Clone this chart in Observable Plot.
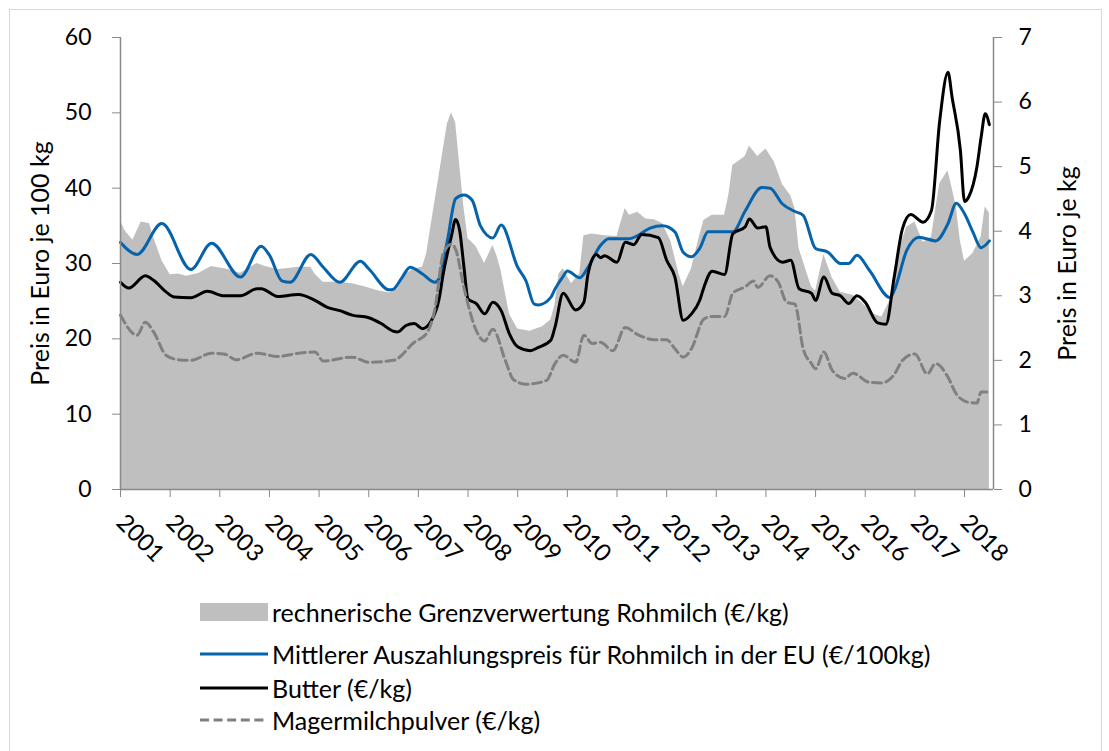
<!DOCTYPE html>
<html><head><meta charset="utf-8">
<script src="https://cdn.jsdelivr.net/npm/d3@7"></script>
<script src="https://cdn.jsdelivr.net/npm/@observablehq/plot@0.6"></script>
<style>
body{margin:0;background:#fff;font-family:Lato,sans-serif;}
#frame{position:absolute;left:9px;top:9px;width:1093px;height:770px;border:1px solid #d9d9d9;box-sizing:border-box;}
#chart{position:absolute;left:0;top:0;}
.row{position:absolute;left:200px;display:flex;align-items:center;height:30px;font-size:25px;color:#000;white-space:nowrap;}
.sym{width:68px;height:30px;margin-right:4px;display:block;flex:none;}
</style></head><body>
<div id="frame"></div>
<div id="chart"></div>
<div id="legend"></div>
<script>
// ---- Data ----
const grenzDates = ["2001-01","2001-02","2001-04","2001-06","2001-08","2001-09","2001-11","2002-01","2002-03","2002-05","2002-08","2002-11","2003-01","2003-03","2003-06","2003-10","2003-12","2004-03","2004-05","2004-08","2004-11","2004-12","2005-02","2005-06","2005-09","2005-12","2006-03","2006-06","2006-08","2006-10","2006-12","2007-02","2007-03","2007-04","2007-06","2007-08","2007-09","2007-10","2007-11","2007-12","2008-01","2008-02","2008-03","2008-05","2008-07","2008-08","2008-09","2008-11","2009-01","2009-04","2009-07","2009-09","2009-10","2009-11","2009-12","2010-02","2010-04","2010-05","2010-07","2010-10","2011-01","2011-02","2011-03","2011-04","2011-06","2011-08","2011-10","2011-12","2012-02","2012-04","2012-05","2012-07","2012-09","2012-10","2012-12","2013-03","2013-04","2013-05","2013-06","2013-08","2013-09","2013-11","2014-01","2014-03","2014-05","2014-07","2014-08","2014-09","2014-11","2014-12","2015-01","2015-03","2015-05","2015-07","2015-10","2015-12","2016-03","2016-05","2016-07","2016-09","2016-11","2017-01","2017-03","2017-05","2017-07","2017-09","2017-10","2017-11","2017-12","2018-01","2018-03","2018-05","2018-06","2018-07"];
const grenzValues = [35.7,34.4,33.1,35.5,35.3,33.5,30.4,28.5,28.6,28.3,28.7,29.6,29.4,29.2,28.7,30.0,29.6,29.2,29.3,29.5,29.5,28.6,27.5,27.5,27.3,26.9,26.4,26.1,26.6,28.6,29.3,29.5,31.3,34.8,41.6,48.5,50.0,48.7,43.0,37.5,33.3,32.8,32.2,30.0,32.4,31.0,29.0,23.3,21.3,21.0,21.6,22.5,24.5,28.6,29.3,27.3,28.6,33.7,33.9,33.7,33.6,35.5,37.3,36.4,36.8,35.9,35.8,35.3,33.0,28.6,26.9,29.3,33.7,35.7,36.4,36.4,39.0,43.0,43.4,44.2,45.6,44.2,45.2,43.5,40.5,39.0,37.3,32.0,28.6,26.9,26.3,31.2,28.1,26.2,25.8,24.9,23.3,22.9,25.1,31.3,34.8,35.5,32.8,33.5,40.6,42.3,40.0,37.5,33.0,30.3,31.3,33.5,37.5,36.7];

const milkDates = ["2001-01","2001-05","2001-11","2002-06","2002-11","2003-06","2003-11","2004-01","2004-04","2004-06","2004-11","2005-02","2005-06","2005-11","2006-01","2006-06","2006-07","2006-09","2006-11","2007-02","2007-05","2007-06","2007-08","2007-10","2007-12","2008-02","2008-04","2008-07","2008-09","2009-01","2009-03","2009-05","2009-06","2009-09","2009-10","2009-12","2010-01","2010-04","2010-06","2010-09","2010-11","2011-04","2011-06","2011-09","2011-12","2012-03","2012-05","2012-07","2012-09","2012-11","2013-05","2013-08","2013-12","2014-02","2014-05","2014-08","2014-10","2015-01","2015-04","2015-07","2015-09","2015-11","2016-02","2016-07","2016-08","2016-11","2017-02","2017-06","2017-09","2017-11","2018-01","2018-03","2018-05","2018-07"];
const milkValues = [32.8,31.2,35.3,29.2,32.7,28.2,32.3,31.1,27.7,27.5,31.2,29.5,27.5,30.3,29.3,26.5,26.6,28.1,29.5,28.6,27.5,28.0,33.0,38.6,39.1,38.4,35.0,33.4,35.1,29.5,27.7,24.6,24.5,25.5,26.6,28.3,29.0,28.1,29.5,32.4,33.3,33.3,33.7,34.7,35.0,34.2,31.5,30.9,32.0,34.2,34.2,37.0,40.1,40.0,37.9,36.9,36.4,32.0,31.5,30.0,30.0,31.1,29.1,25.5,26.4,31.7,33.5,33.0,35.3,38.0,36.6,34.2,32.1,33.0];

const butterDates = ["2001-01","2001-03","2001-07","2001-09","2001-12","2002-02","2002-06","2002-10","2003-02","2003-06","2003-10","2003-11","2004-03","2004-08","2004-12","2005-03","2005-06","2005-09","2006-01","2006-04","2006-07","2006-08","2006-10","2006-12","2007-02","2007-04","2007-06","2007-07","2007-09","2007-10","2007-11","2007-12","2008-01","2008-03","2008-05","2008-07","2008-09","2008-11","2009-01","2009-04","2009-06","2009-09","2009-10","2009-12","2010-03","2010-05","2010-06","2010-08","2010-09","2010-10","2011-01","2011-03","2011-05","2011-07","2011-11","2012-01","2012-03","2012-05","2012-07","2012-09","2012-10","2012-12","2013-03","2013-05","2013-08","2013-09","2013-11","2014-01","2014-02","2014-05","2014-07","2014-09","2014-12","2015-01","2015-03","2015-05","2015-07","2015-09","2015-11","2016-01","2016-04","2016-06","2016-08","2016-10","2016-12","2017-03","2017-05","2017-07","2017-09","2017-10","2017-12","2018-01","2018-02","2018-04","2018-05","2018-06","2018-07"];
const butterValues = [3.21,3.12,3.31,3.24,3.06,2.98,2.97,3.07,3.00,3.00,3.11,3.11,2.99,3.02,2.93,2.82,2.77,2.70,2.66,2.57,2.45,2.44,2.54,2.57,2.49,2.60,2.95,3.34,3.93,4.18,4.00,3.45,2.95,2.88,2.72,2.90,2.77,2.41,2.21,2.15,2.20,2.31,2.51,3.04,2.78,2.90,3.34,3.64,3.59,3.62,3.52,3.83,3.79,3.95,3.90,3.55,3.29,2.62,2.72,2.93,3.13,3.38,3.33,3.96,4.07,4.19,4.05,4.07,3.75,3.52,3.55,3.11,3.04,2.93,3.29,3.04,3.00,2.88,3.00,2.90,2.58,2.56,3.29,4.04,4.26,4.14,4.32,5.71,6.46,6.07,5.25,4.46,4.53,5.00,5.45,5.82,5.65];

const smpDates = ["2001-01","2001-05","2001-07","2001-09","2001-12","2002-03","2002-06","2002-11","2003-02","2003-05","2003-10","2004-03","2004-08","2004-12","2005-02","2005-09","2006-01","2006-07","2006-12","2007-03","2007-05","2007-07","2007-09","2007-10","2007-12","2008-03","2008-05","2008-07","2008-10","2008-12","2009-03","2009-08","2009-10","2009-12","2010-03","2010-05","2010-07","2010-09","2010-12","2011-03","2011-06","2011-10","2012-01","2012-03","2012-05","2012-07","2012-10","2012-12","2013-03","2013-05","2013-08","2013-10","2013-11","2014-02","2014-04","2014-06","2014-08","2014-10","2014-12","2015-01","2015-03","2015-05","2015-08","2015-10","2016-02","2016-05","2016-08","2016-10","2017-01","2017-04","2017-06","2017-09","2017-11","2018-02","2018-04","2018-05","2018-07"];
const smpValues = [2.70,2.39,2.59,2.44,2.08,2.01,2.00,2.11,2.10,2.01,2.11,2.06,2.11,2.13,1.99,2.05,1.97,2.00,2.28,2.42,2.80,3.65,3.80,3.72,3.13,2.46,2.30,2.48,2.00,1.70,1.63,1.69,1.95,2.08,1.97,2.39,2.26,2.28,2.15,2.51,2.40,2.32,2.32,2.18,2.05,2.18,2.64,2.68,2.68,3.04,3.14,3.23,3.13,3.31,3.21,2.90,2.87,2.18,1.95,1.87,2.13,1.85,1.72,1.80,1.66,1.65,1.78,2.00,2.10,1.79,1.95,1.74,1.48,1.35,1.34,1.51,1.51];

const yearLabels = ["2001","2002","2003","2004","2005","2006","2007","2008","2009","2010","2011","2012","2013","2014","2015","2016","2017","2018"];
const leftTicks = [0,10,20,30,40,50,60];
const rightTicks = [0,1,2,3,4,5,6,7];
const leftTitle = "Preis in Euro je 100 kg";
const rightTitle = "Preis in Euro je kg";
const legendLabels = [
  "rechnerische Grenzverwertung Rohmilch (€/kg)",
  "Mittlerer Auszahlungspreis für Rohmilch in der EU (€/100kg)",
  "Butter (€/kg)",
  "Magermilchpulver (€/kg)"
];

// ---- Build ----
const toIdx = s => { const [y, m] = s.split("-").map(Number); return (y - 2001) * 12 + (m - 1); };
const K = 60 / 7; // right axis (€/kg) -> left axis units
const zip = (ds, vs) => ds.map((d, i) => ({i: toIdx(d), v: vs[i]}));
const grenz = zip(grenzDates, grenzValues);
const milk = zip(milkDates, milkValues);
const butter = zip(butterDates, butterValues);
const smp = zip(smpDates, smpValues);
const yearIdx = yearLabels.map(y => (Number(y) - 2001) * 12);

const BLUE = "#0563ac", GREY = "#bfbfbf", DASH = "#808080", AX = "#898989";
const FONT = 23;

const chart = Plot.plot({
  width: 1109, height: 590,
  marginLeft: 120, marginRight: 116, marginTop: 37, marginBottom: 101,
  x: {domain: [0, 211]},
  y: {domain: [0, 60]},
  style: {fontFamily: "Lato, sans-serif", fontSize: FONT + "px", color: "#000", background: "transparent"},
  marks: [
    Plot.areaY(grenz, {x: "i", y: "v", fill: GREY}),
    Plot.line(milk, {x: "i", y: "v", stroke: BLUE, strokeWidth: 3, curve: "monotone-x"}),
    Plot.line(butter, {x: "i", y: d => d.v * K, stroke: "#000", strokeWidth: 3, curve: "monotone-x"}),
    Plot.line(smp, {x: "i", y: d => d.v * K, stroke: DASH, strokeWidth: 3, strokeDasharray: "9,4.6", curve: "monotone-x"}),
    Plot.ruleX([0, 211], {stroke: AX, strokeWidth: 1.5}),
    Plot.ruleY([0], {stroke: AX, strokeWidth: 1.5}),
    Plot.axisY({ticks: leftTicks, tickSize: 8, tickPadding: 21, stroke: AX, fontSize: FONT, label: null}),
    Plot.axisY({anchor: "right", ticks: rightTicks.map(t => t * K), tickFormat: d => String(Math.round(d / K)), tickSize: 8, tickPadding: 17, stroke: AX, fontSize: FONT, label: null}),
    Plot.axisX({ticks: yearIdx, tickFormat: i => yearLabels[Math.round(i / 12)], tickRotate: 45, tickSize: 8, tickPadding: 21, stroke: AX, fontSize: 24, label: null}),
    Plot.text([leftTitle], {frameAnchor: "left", dx: -80, rotate: -90, textAnchor: "middle", fontSize: 25}),
    Plot.text([rightTitle], {frameAnchor: "right", dx: 74, rotate: -90, textAnchor: "middle", fontSize: 25})
  ]
});
document.getElementById("chart").appendChild(chart);

// ---- Legend ----
const legend = document.getElementById("legend");
const rowCenters = [612, 654, 688, 720];
const syms = [
  `<rect x="0" y="6" width="68" height="18" fill="${GREY}"/>`,
  `<line x1="0" x2="68" y1="15" y2="15" stroke="${BLUE}" stroke-width="3"/>`,
  `<line x1="0" x2="68" y1="15" y2="15" stroke="#000" stroke-width="3"/>`,
  `<line x1="0" x2="68" y1="15" y2="15" stroke="${DASH}" stroke-width="3" stroke-dasharray="9,4.6"/>`
];
legendLabels.forEach((lab, k) => {
  const row = document.createElement("div");
  row.className = "row";
  row.style.top = (rowCenters[k] - 15) + "px";
  row.innerHTML = `<svg class="sym" viewBox="0 0 68 30">${syms[k]}</svg><span>${lab}</span>`;
  legend.appendChild(row);
});
</script>
</body></html>
